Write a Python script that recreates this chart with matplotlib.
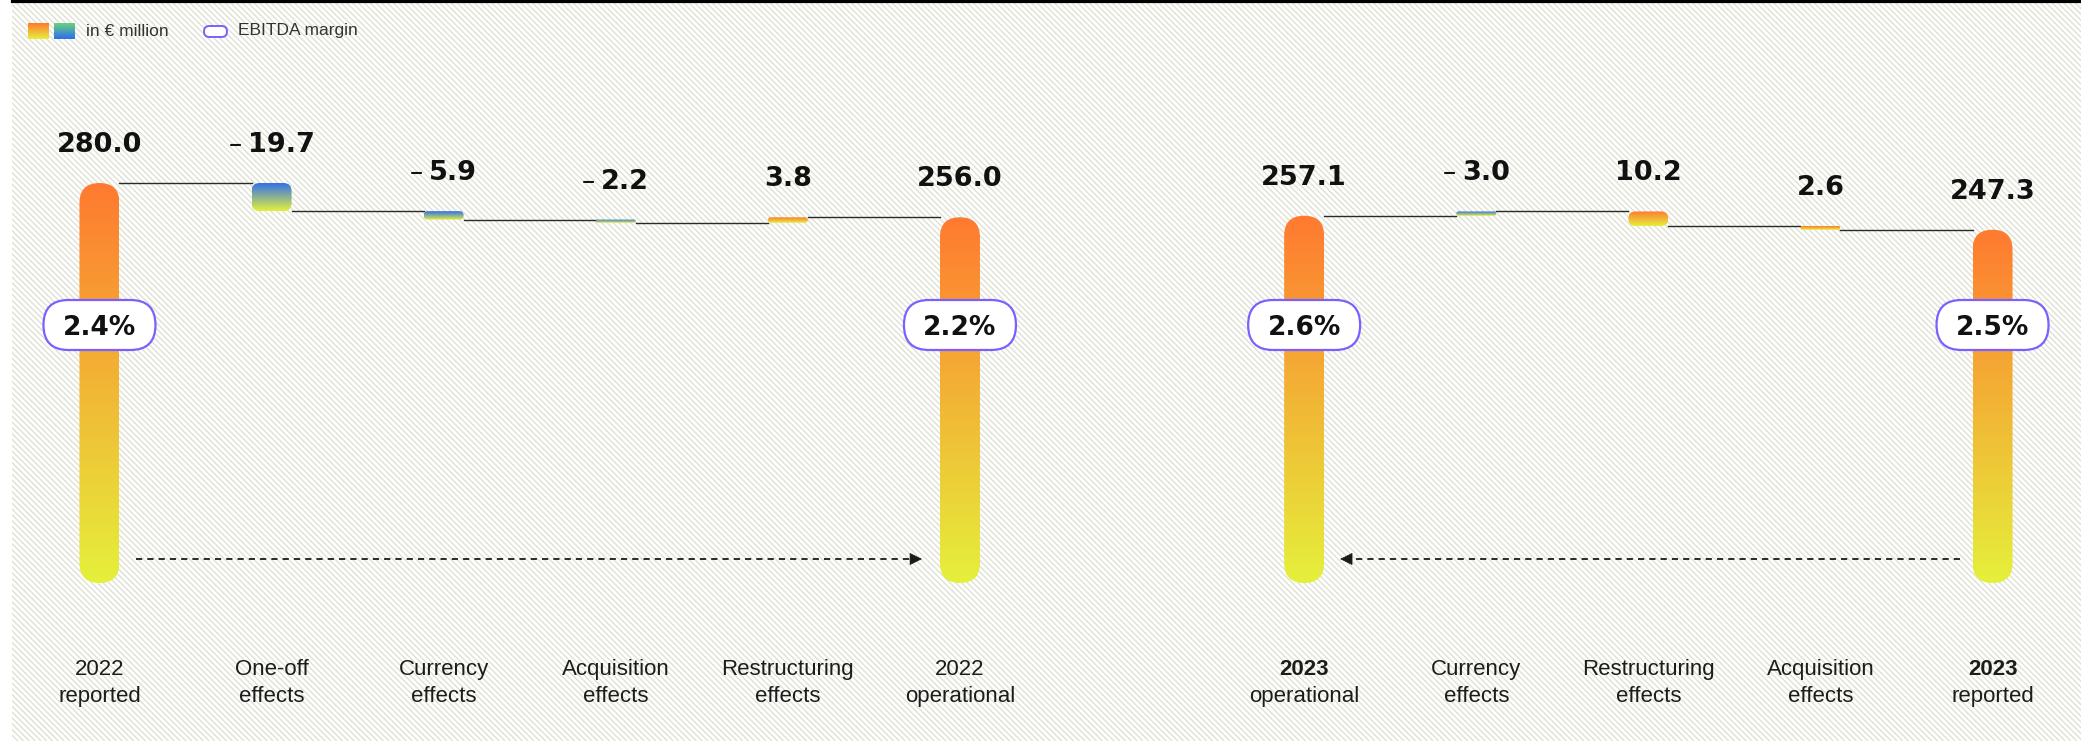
import numpy as np
import matplotlib.pyplot as plt
from matplotlib.patches import FancyBboxPatch, Rectangle
from matplotlib.collections import LineCollection
from matplotlib.colors import LinearSegmentedColormap

# values in € million
left_labels = [["2022", "reported"], ["One-off", "effects"], ["Currency", "effects"],
               ["Acquisition", "effects"], ["Restructuring", "effects"], ["2022", "operational"]]
left_values = [280.0, -19.7, -5.9, -2.2, 3.8, 256.0]
left_margins = ["2.4%", "2.2%"]

right_labels = [["2023", "operational"], ["Currency", "effects"], ["Restructuring", "effects"],
                ["Acquisition", "effects"], ["2023", "reported"]]
right_values = [257.1, -3.0, 10.2, 2.6, 247.3]
right_margins = ["2.6%", "2.5%"]

W, H, DPI = 2081, 741, 100
XLIM = (-0.578, 11.514)
YLIM = (-110.6, 408.1)
BAR_PX = 40
ORANGE, YELLOW, BLUE = '#ff7a30', '#e5f03b', '#2d6ef0'
PURPLE = '#7d5fff'
LABEL_FONT = ['Liberation Sans', 'DejaVu Sans']

fig = plt.figure(figsize=(W / DPI, H / DPI), dpi=DPI)
fig.patch.set_facecolor('white')

# background axes in pixel units (y from top)
bg = fig.add_axes([0, 0, 1, 1])
bg.axis('off')
xs = np.arange(12 - H, W, 5.8)
lc = LineCollection([[(x, 0), (x + H, H)] for x in xs], colors='#dfe1d2',
                    linewidths=1.0, zorder=0)
bg.add_collection(lc)
lc.set_clip_path(Rectangle((12, 0), W - 12, H, transform=bg.transData))
bg.plot([12, W], [1.2, 1.2], color='black', lw=2.3, zorder=1)


def legend_square(x0, top_c, bot_c):
    cmap = LinearSegmentedColormap.from_list('lg', [bot_c, top_c])
    bg.imshow(np.linspace(0, 1, 64).reshape(-1, 1), cmap=cmap, extent=(x0, x0 + 21, 39, 23),
              origin='lower', aspect='auto', interpolation='bilinear', zorder=3)


legend_square(28, ORANGE, YELLOW)
legend_square(54, '#68d27c', BLUE)
bg.text(86, 31, "in € million", va='center', ha='left', fontsize=12.5, color='#333333',
        family=LABEL_FONT, zorder=3)
bg.add_patch(FancyBboxPatch((204, 26), 23, 11, boxstyle="round,pad=0,rounding_size=5.4",
                            fc='white', ec=PURPLE, lw=1.4, zorder=3))
bg.text(238, 31, "EBITDA margin", va='center', ha='left', fontsize=12.5, color='#333333',
        family=LABEL_FONT, zorder=3)
bg.set_xlim(0, W)
bg.set_ylim(H, 0)

# main axes in data units
ax = fig.add_axes([0, 0, 1, 1])
ax.axis('off')
ax.set_xlim(*XLIM)
ax.set_ylim(*YLIM)
px_x = W / (XLIM[1] - XLIM[0])
px_y = H / (YLIM[1] - YLIM[0])
w = BAR_PX / px_x


def ypx(p):
    return YLIM[1] - p / px_y


def gbar(x, lo, hi, top_c, bot_c, r_px):
    h_px = (hi - lo) * px_y
    r = min(r_px, h_px / 2, BAR_PX / 2)
    patch = FancyBboxPatch((x - w / 2, lo), w, hi - lo,
                           boxstyle=f"round,pad=0,rounding_size={r / px_x}",
                           mutation_aspect=px_x / px_y, fc='none', ec='none')
    ax.add_patch(patch)
    cmap = LinearSegmentedColormap.from_list('g', [bot_c, top_c])
    im = ax.imshow(np.linspace(0, 1, 256).reshape(-1, 1), cmap=cmap,
                   extent=(x - w / 2, x + w / 2, lo, hi), origin='lower',
                   aspect='auto', interpolation='bilinear', zorder=3)
    im.set_clip_path(patch)


def waterfall(values, reverse):
    vals = values[::-1] if reverse else list(values)
    level = vals[0]
    spans = [(0, vals[0])]
    bounds = []
    for v in vals[1:-1]:
        bounds.append(level)
        spans.append((level, level + v))
        level += v
    bounds.append(level)
    spans.append((0, vals[-1]))
    if reverse:
        spans, bounds = spans[::-1], bounds[::-1]
    return spans, bounds


renderer = fig.canvas.get_renderer()


def value_label(x, top, v):
    off = 31
    num = ax.annotate(f"{abs(v):.1f}", (x, top), xytext=(0, off), textcoords='offset pixels',
                      ha='center', va='baseline', fontsize=19.5, fontweight='bold', color='#111111')
    if v < 0:
        dash = ax.annotate("–", (x, top), xytext=(0, off), textcoords='offset pixels',
                           ha='right', va='baseline', fontsize=19, color='#111111')
        nw = num.get_window_extent(renderer).width
        dw = dash.get_window_extent(renderer).width
        gap = 6
        total = dw + gap + nw
        num.xyann = (-total / 2 + dw + gap + nw / 2, off)
        dash.xyann = (-total / 2 + dw, off)


def pill(x, txt):
    yc = ypx(325)
    pw, ph = 112 / px_x, 50 / px_y
    ax.add_patch(FancyBboxPatch((x - pw / 2, yc - ph / 2), pw, ph,
                                boxstyle=f"round,pad=0,rounding_size={24.9 / px_x}",
                                mutation_aspect=px_x / px_y, fc='white', ec=PURPLE, lw=1.6, zorder=5))
    ax.text(x, ypx(334.5), txt, ha='center', va='baseline', fontsize=19,
            fontweight='bold', color='#111111', zorder=6)


def panel(xpos, values, labels, margins, reverse, bold_totals):
    spans, bounds = waterfall(values, reverse)
    last = len(values) - 1
    for i, (x, v, (lo, hi)) in enumerate(zip(xpos, values, spans)):
        lo, hi = min(lo, hi), max(lo, hi)
        if i in (0, last):
            gbar(x, lo, hi, ORANGE, YELLOW, 20)
        elif v < 0:
            gbar(x, lo, hi, BLUE, YELLOW, 8)
        else:
            gbar(x, lo, hi, ORANGE, YELLOW, 8)
        value_label(x, hi, v)
        bold = bold_totals and i in (0, last)
        ax.text(x, ypx(675), labels[i][0], ha='center', va='baseline', fontsize=16,
                family=LABEL_FONT, fontweight='bold' if bold else 'normal', color='#1c1c1c')
        ax.text(x, ypx(702), labels[i][1], ha='center', va='baseline', fontsize=16,
                family=LABEL_FONT, color='#1c1c1c')
    for i, b in enumerate(bounds):
        ax.plot([xpos[i] + w / 2, xpos[i + 1] - w / 2], [b, b], color='#2a2a2a', lw=1.0, zorder=2)
    pill(xpos[0], margins[0])
    pill(xpos[-1], margins[1])


left_x = list(range(len(left_values)))
right_x = [7 + i for i in range(len(right_values))]
panel(left_x, left_values, left_labels, left_margins, False, False)
panel(right_x, right_values, right_labels, right_margins, True, True)


def dashed_arrow(x_start, x_tip):
    y = ypx(559)
    d = np.sign(x_tip - x_start)
    ax.plot([x_start, x_tip - d * 8 / px_x], [y, y], color='#2a2a2a', lw=1.4,
            ls=(0, (3.2, 2.6)), zorder=2)
    ax.annotate('', xy=(x_tip, y), xytext=(x_tip - d * 10 / px_x, y),
                arrowprops=dict(arrowstyle='-|>', mutation_scale=20, color='#1a1a1a',
                                lw=0.5, shrinkA=0, shrinkB=0))


dashed_arrow(left_x[0] + 37 / px_x, left_x[-1] - 38 / px_x)
dashed_arrow(right_x[-1] - 33 / px_x, right_x[0] + 36 / px_x)

ax.set_xlim(*XLIM)
ax.set_ylim(*YLIM)
fig.savefig('out.png', dpi=DPI, facecolor='white')
